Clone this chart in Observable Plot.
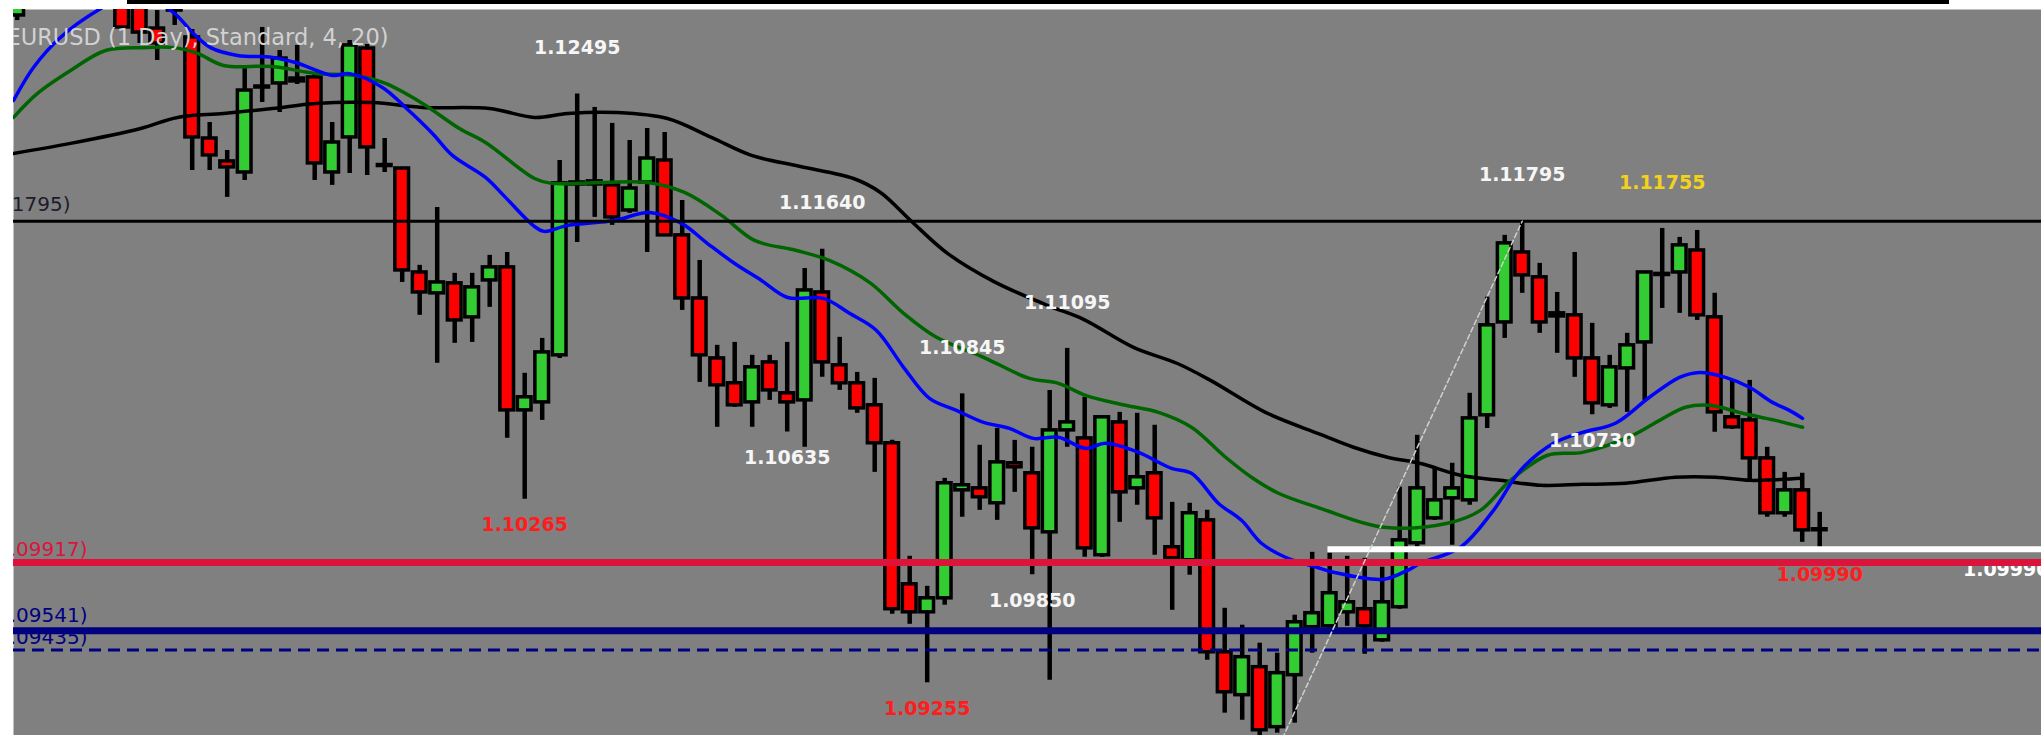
<!DOCTYPE html>
<html><head><meta charset="utf-8">
<script src="https://cdn.jsdelivr.net/npm/d3@7"></script>
<script src="https://cdn.jsdelivr.net/npm/@observablehq/plot@0.6"></script>
<style>
html,body{margin:0;padding:0;background:#ffffff;}
#wrap{position:relative;width:2041px;height:735px;}
#wrap svg{display:block;}
#topbar{position:absolute;left:127px;top:0;width:1822px;height:4px;background:#000;}
</style>
</head><body>
<div id="wrap"><div id="chart"></div><div id="topbar"></div></div>
<script>
// ---- daily candles (index 0..103), EURUSD ----
const opens = [1.12927,1.13100,1.13180,1.13250,1.13200,1.13120,1.13229,1.13064,1.12855,1.13037,
1.12806,1.12250,1.12124,1.12063,1.12536,1.12553,1.12580,1.12586,1.12063,1.12256,
1.12745,1.12104,1.12085,1.11513,1.11398,1.11453,1.11266,1.11469,1.11541,1.10754,
1.10798,1.11057,1.12008,1.12014,1.11992,1.11854,1.12008,1.12129,1.11717,1.11370,
1.11040,1.10903,1.10798,1.11018,1.10848,1.10809,1.11403,1.11002,1.10903,1.10782,
1.10573,1.09797,1.09643,1.09720,1.10314,1.10325,1.10243,1.10463,1.10408,1.10083,
1.10644,1.10600,1.09957,1.10688,1.10325,1.10408,1.10001,1.09929,1.10149,1.09423,
1.09187,1.09341,1.09011,1.09297,1.09561,1.09566,1.09643,1.09660,1.09489,1.09671,
1.10023,1.10160,1.10270,1.10259,1.10727,1.11238,1.11623,1.11486,1.11271,1.11277,
1.11040,1.10782,1.10985,1.11128,1.11499,1.11513,1.11634,1.11266,1.10716,1.10699,
1.10490,1.10188,1.10314,1.10100];
const highs = [1.13174,1.13250,1.13300,1.13380,1.13320,1.13300,1.13270,1.13120,1.12954,1.13080,
1.12850,1.12338,1.12184,1.12635,1.12861,1.12734,1.12762,1.12608,1.12338,1.12789,
1.12767,1.12250,1.12091,1.11552,1.11871,1.11508,1.11508,1.11607,1.11623,1.10958,
1.11150,1.12129,1.12495,1.12421,1.12333,1.12239,1.12305,1.12283,1.11909,1.11579,
1.11112,1.11128,1.11057,1.11057,1.11128,1.11535,1.11640,1.11156,1.10963,1.10930,
1.10589,1.09951,1.09786,1.10380,1.10845,1.10562,1.10655,1.10589,1.10551,1.10864,
1.11095,1.10826,1.10716,1.10743,1.10738,1.10672,1.10248,1.10243,1.10204,1.09665,
1.09572,1.09473,1.09418,1.09627,1.09973,1.09968,1.09951,1.09940,1.09891,1.10331,
1.10617,1.10441,1.10463,1.10848,1.11376,1.11717,1.11795,1.11563,1.11403,1.11623,
1.11233,1.11057,1.11178,1.11518,1.11755,1.11706,1.11744,1.11398,1.10919,1.10919,
1.10551,1.10413,1.10408,1.10193];
const lows = [1.12899,1.13020,1.13100,1.13150,1.13060,1.13040,1.12844,1.12773,1.12679,1.12872,
1.12074,1.12074,1.11926,1.12019,1.12448,1.12393,1.12547,1.12019,1.11992,1.12058,
1.12047,1.12063,1.11458,1.11277,1.11013,1.11123,1.11128,1.11321,1.10600,1.10265,
1.10699,1.11040,1.11678,1.11816,1.11772,1.11838,1.11623,1.11712,1.11304,1.10908,
1.10661,1.10771,1.10661,1.10809,1.10635,1.10551,1.10936,1.10864,1.10738,1.10413,
1.09632,1.09577,1.09255,1.09682,1.10166,1.10204,1.10149,1.10303,1.09850,1.09269,
1.10551,1.09946,1.09946,1.10138,1.10232,1.09957,1.09654,1.09847,1.09379,1.09088,
1.09049,1.08939,1.08978,1.09033,1.09418,1.09555,1.09566,1.09412,1.09478,1.09660,
1.10001,1.10149,1.10012,1.10232,1.10655,1.11150,1.11398,1.11178,1.11068,1.10936,
1.10730,1.10765,1.10743,1.10809,1.11315,1.11288,1.11249,1.10633,1.10650,1.10369,
1.10166,1.10166,1.10028,1.09990];
const closes = [1.13119,1.13180,1.13250,1.13200,1.13120,1.13220,1.12861,1.12833,1.12773,1.12954,
1.12256,1.12157,1.12091,1.12514,1.12536,1.12690,1.12564,1.12113,1.12228,1.12762,
1.12201,1.12104,1.11524,1.11403,1.11458,1.11249,1.11431,1.11541,1.10754,1.10826,
1.11073,1.12003,1.11997,1.11997,1.11816,1.11975,1.12140,1.11717,1.11370,1.11057,
1.10892,1.10782,1.10991,1.10864,1.10798,1.11414,1.11018,1.10903,1.10765,1.10573,
1.09660,1.09643,1.09720,1.10353,1.10342,1.10276,1.10468,1.10441,1.10105,1.10644,
1.10688,1.09995,1.10716,1.10303,1.10386,1.10160,1.09940,1.10188,1.09423,1.09203,
1.09396,1.08994,1.09308,1.09588,1.09638,1.09748,1.09698,1.09566,1.09698,1.10039,
1.10325,1.10259,1.10325,1.10710,1.11222,1.11673,1.11497,1.11238,1.11288,1.11040,
1.10793,1.10991,1.11112,1.11513,1.11505,1.11662,1.11277,1.10743,1.10661,1.10490,
1.10188,1.10314,1.10094,1.10100];

// ---- moving averages: [candle index, price] ----
const blueMA = [[-0.21,1.12459],[0.93,1.12641],[2.47,1.12806],[4.59,1.12954],[6.76,1.13053],[8.93,1.12943],
[10.07,1.12828],[11.05,1.12750],[12.59,1.12707],[14.59,1.12696],[15.90,1.12668],[18.02,1.12597],[18.99,1.12607],
[20.87,1.12531],[22.19,1.12421],[23.73,1.12278],[24.87,1.12157],[26.76,1.12036],[27.90,1.11926],[29.56,1.11766],
[30.13,1.11739],[31.45,1.11772],[34.13,1.11799],[36.13,1.11843],[37.96,1.11783],[39.45,1.11672],[41.00,1.11562],
[42.53,1.11469],[44.02,1.11375],[46.07,1.11370],[47.56,1.11288],[49.10,1.11194],[50.65,1.10991],[52.13,1.10820],
[53.67,1.10754],[55.22,1.10688],[56.70,1.10655],[58.07,1.10600],[59.50,1.10606],[61.05,1.10545],[62.19,1.10573],
[64.07,1.10523],[65.96,1.10435],[67.10,1.10408],[68.65,1.10242],[69.96,1.10149],[71.10,1.10023],[72.47,1.09946],
[74.47,1.09885],[75.22,1.09863],[78.08,1.09825],[79.45,1.09874],[80.19,1.09913],[82.47,1.10001],[84.36,1.10204],
[85.90,1.10424],[87.79,1.10573],[89.45,1.10633],[91.33,1.10683],[93.27,1.10826],[94.99,1.10936],[96.13,1.10963],
[97.62,1.10936],[98.99,1.10881],[100.30,1.10798],[101.27,1.10754],[102.02,1.10710]];
const greenMA = [[-0.21,1.12366],[1.16,1.12498],[3.05,1.12624],[5.05,1.12734],[7.22,1.12750],[8.93,1.12750],
[10.30,1.12718],[11.79,1.12652],[14.59,1.12646],[17.05,1.12608],[19.33,1.12597],[21.05,1.12553],[23.16,1.12443],
[25.27,1.12305],[26.76,1.12228],[29.56,1.12030],[30.53,1.12003],[33.39,1.12008],[36.02,1.12008],[38.13,1.11953],
[40.25,1.11827],[42.13,1.11689],[44.53,1.11634],[46.41,1.11579],[48.70,1.11458],[50.65,1.11288],[52.53,1.11156],
[55.22,1.11046],[57.85,1.10930],[59.50,1.10903],[61.05,1.10837],[63.33,1.10782],[65.22,1.10743],[67.10,1.10661],
[69.05,1.10496],[70.53,1.10386],[72.07,1.10298],[74.47,1.10215],[78.08,1.10111],[81.73,1.10133],[83.61,1.10204],
[85.33,1.10369],[87.45,1.10507],[89.45,1.10523],[92.31,1.10617],[93.85,1.10699],[95.33,1.10771],[96.71,1.10782],
[98.59,1.10738],[100.48,1.10699],[102.02,1.10661]];
const blackMA = [[-0.21,1.12168],[3.05,1.12223],[7.05,1.12305],[9.16,1.12366],[11.79,1.12388],[14.59,1.12415],
[17.05,1.12443],[20.30,1.12448],[23.16,1.12421],[26.99,1.12415],[29.56,1.12366],[31.45,1.12388],[34.30,1.12393],
[37.16,1.12360],[39.67,1.12256],[41.96,1.12157],[44.75,1.12096],[47.79,1.12030],[49.33,1.11953],[51.05,1.11799],
[53.16,1.11618],[55.79,1.11464],[58.87,1.11332],[60.93,1.11255],[63.79,1.11101],[66.30,1.11012],[68.19,1.10919],
[71.33,1.10743],[74.47,1.10622],[76.36,1.10551],[78.30,1.10496],[80.19,1.10462],[82.47,1.10397],[84.76,1.10369],
[87.05,1.10342],[89.45,1.10347],[91.90,1.10353],[94.76,1.10386],[97.05,1.10386],[99.00,1.10369],[100.76,1.10374],
[102.02,1.10380]];

// ---- horizontal levels ----
const levelBlack = 1.11795;
const levelRed = 1.09917;
const levelNavy = 1.09541;
const levelNavyDash = 1.09435;
const levelWhite = 1.09990;
const whiteLineStart = 74.9;

// ---- diagonal (fib) line: [index, price] ----
const fibLine = [[72.3, 1.08950], [86.0, 1.11795]];

// ---- swing labels ----
const highLabelIdx = [32, 46, 54, 60, 86];
const highLabelGold = [94];
const lowLabelWhite = [44, 58, 90];
const lowLabelRed = [29, 52, 103];

// ---- visible range ----
const indexRange = [-0.211, 115.674];
const priceRange = [1.089651, 1.129598];
const titleText = "EURUSD (1 Day), Standard, 4, 20)";

const candles = opens.map((o, i) => ({i, open: o, high: highs[i], low: lows[i], close: closes[i]}));
const bodies = candles.filter(d => Math.abs(d.close - d.open) >= 0.00003);
const dojis = candles.filter(d => Math.abs(d.close - d.open) < 0.00003);
const fmt = v => v.toFixed(5);
const byIdx = arr => arr.map(i => candles[i]);

const labelFont = {fontFamily: "DejaVu Sans", fontWeight: "bold", fontSize: 19};

const chart = Plot.plot({
  width: 2041, height: 735,
  marginLeft: 13, marginRight: 0, marginTop: 9, marginBottom: 0,
  x: {domain: indexRange, axis: null},
  y: {domain: priceRange, axis: null},
  color: {type: "identity"},
  style: {background: "transparent"},
  marks: [
    Plot.frame({fill: "#808080", stroke: "none"}),
    Plot.ruleX(candles, {x: "i", y1: "low", y2: "high", stroke: "#000", strokeWidth: 4.5, clip: true}),
    Plot.rect(bodies, {x1: d => d.i - 0.39, x2: d => d.i + 0.39, y1: "open", y2: "close",
      fill: d => d.close >= d.open ? "#33cc33" : "#ff0000", stroke: "#000", strokeWidth: 3.5, clip: true}),
    Plot.ruleY(dojis, {x1: d => d.i - 0.49, x2: d => d.i + 0.49, y: "open", stroke: "#000", strokeWidth: 4.5, clip: true}),
    Plot.line(blackMA, {x: d => d[0], y: d => d[1], stroke: "#000", strokeWidth: 3.5, curve: "catmull-rom", clip: true}),
    Plot.line(greenMA, {x: d => d[0], y: d => d[1], stroke: "#006400", strokeWidth: 3.5, curve: "catmull-rom", clip: true}),
    Plot.line(blueMA, {x: d => d[0], y: d => d[1], stroke: "#0000ff", strokeWidth: 3.5, curve: "catmull-rom", clip: true}),
    Plot.ruleY([levelBlack], {stroke: "#000", strokeWidth: 3}),
    Plot.ruleY([levelWhite], {x1: whiteLineStart, x2: indexRange[1], stroke: "#ffffff", strokeWidth: 6}),
    Plot.text([levelWhite], {x: indexRange[1], y: d => d, text: d => fmt(d), textAnchor: "end", dx: 8, dy: 21, fill: "#ffffff", ...labelFont, clip: true}),
    Plot.ruleY([levelRed], {stroke: "#dc143c", strokeWidth: 7}),
    Plot.ruleY([levelNavy], {stroke: "#000080", strokeWidth: 7}),
    Plot.ruleY([levelNavyDash], {stroke: "#000080", strokeWidth: 3, strokeDasharray: "12,7"}),
    Plot.line(fibLine, {x: d => d[0], y: d => d[1], stroke: "#cfcfcf", strokeWidth: 1.5, strokeDasharray: "5,3", clip: true}),
    Plot.text([levelBlack], {x: 3.05, y: d => d, text: d => "(" + fmt(d) + ")", textAnchor: "end", dy: -17, fill: "#1c1c2c", fontFamily: "DejaVu Sans", fontSize: 20, clip: true}),
    Plot.text([levelRed], {x: 4.02, y: d => d, text: d => "(" + fmt(d) + ")", textAnchor: "end", dy: -13, fill: "#dc143c", fontFamily: "DejaVu Sans", fontSize: 20, clip: true}),
    Plot.text([levelNavy], {x: 4.02, y: d => d, text: d => "(" + fmt(d) + ")", textAnchor: "end", dy: -15, fill: "#000080", fontFamily: "DejaVu Sans", fontSize: 20, clip: true}),
    Plot.text([levelNavyDash], {x: 4.02, y: d => d, text: d => "(" + fmt(d) + ")", textAnchor: "end", dy: -13, fill: "#000080", fontFamily: "DejaVu Sans", fontSize: 20, clip: true}),
    Plot.text(byIdx(highLabelIdx), {x: "i", y: "high", text: d => fmt(d.high), dy: -46, fill: "#f6f6f6", ...labelFont}),
    Plot.text(byIdx(highLabelGold), {x: "i", y: "high", text: d => fmt(d.high), dy: -46, fill: "#f2d21b", ...labelFont}),
    Plot.text(byIdx(lowLabelWhite), {x: "i", y: "low", text: d => fmt(d.low), dy: 26, fill: "#f6f6f6", ...labelFont}),
    Plot.text(byIdx(lowLabelRed), {x: "i", y: "low", text: d => fmt(d.low), dy: 26, fill: "#ff1c1c", ...labelFont}),
    Plot.text([titleText], {frameAnchor: "top-left", text: d => d, textAnchor: "start", lineAnchor: "middle", dx: -7, dy: 28, fill: "#d2d2d2", fontFamily: "DejaVu Sans", fontSize: 22.5, clip: true})
  ]
});
document.getElementById("chart").appendChild(chart);
</script>
</body></html>
